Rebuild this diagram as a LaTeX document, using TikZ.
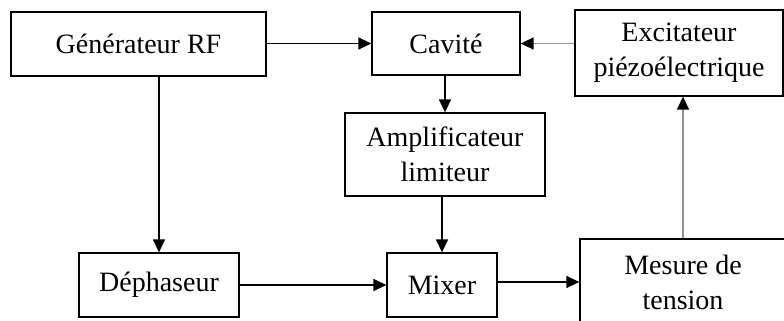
\documentclass[tikz,border=0pt]{standalone}
\usepackage{fontspec}
\setmainfont{Liberation Serif}
\usetikzlibrary{arrows.meta}
\tikzset{blk/.style={draw,line width=1.3pt,align=center,inner sep=0pt},
 arr/.style={-{Triangle[length=13pt,width=12pt]},line width=1.4pt},
 garr/.style={line width=1.5pt,draw=gray!85,-{Triangle[length=13pt,width=12pt,black]}},
 every node/.style={font=\fontsize{28}{35}\selectfont}}

\begin{document}
\begin{tikzpicture}[x=1pt,y=-1pt]
\fill[white] (0,0) rectangle (784,321);\clip (0,0) rectangle (784,321);
\node[blk,minimum width=255pt,minimum height=64pt] (gen) at (138.5,44) {Générateur RF};
\node[blk,minimum width=148pt,minimum height=63pt] (cav) at (446,43.5) {Cavité};
\node[blk,minimum width=208pt,minimum height=86pt] (exc) at (679,53) {Excitateur\\piézoélectrique};
\node[blk,minimum width=200pt,minimum height=83pt] (amp) at (445,154.5) {Amplificateur\\limiteur};
\node[blk,minimum width=160pt,minimum height=64pt] (deph) at (159,285) {Déphaseur};
\node[blk,minimum width=110pt,minimum height=64pt] (mix) at (442,285) {Mixer};
\node[blk,minimum width=206pt,minimum height=86pt] (mes) at (683,282) {Mesure de\\tension};
\draw[arr] (gen.east|-cav) -- (cav.west);
\draw[garr] (exc.west|-cav) -- (cav.east);
\draw[arr] (gen.south-|deph) -- (deph.north);
\draw[arr] (cav.south-|amp) -- (amp.north);
\draw[arr] (amp.south-|mix) -- (mix.north);
\draw[arr] (deph) -- (mix);
\draw[arr] (mix.east|-mes) -- (mes.west);
\draw[garr] (mes.north) -- (mes.north|-exc.south);
\end{tikzpicture}
\end{document}
